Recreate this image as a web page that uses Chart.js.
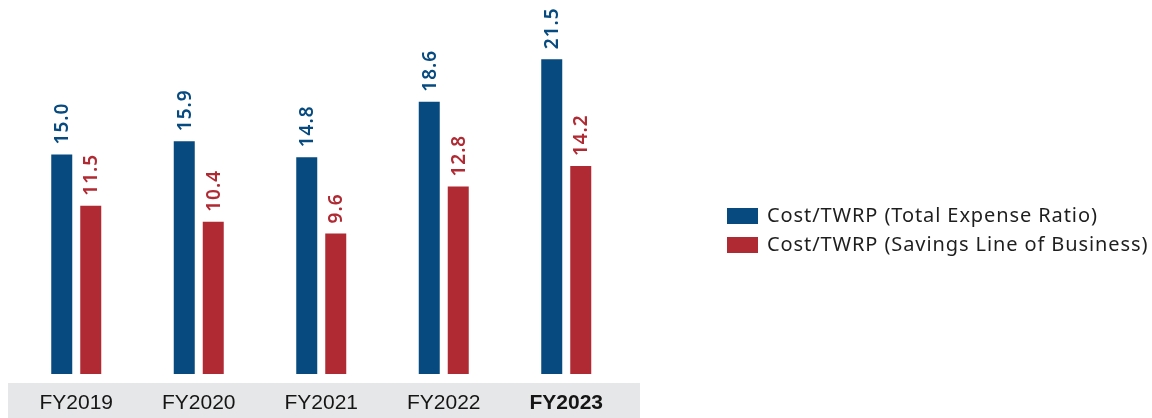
<!DOCTYPE html>
<html>
<head>
<meta charset="utf-8">
<script src="https://cdn.jsdelivr.net/npm/chart.js@4/dist/chart.umd.min.js"></script>
<style>
  html, body { margin: 0; padding: 0; background: #fff; }
  #wrap { width: 1152px; height: 418px; position: relative; }
</style>
</head>
<body>
<div id="wrap"><canvas id="chart"></canvas></div>
<script>
// values
const years = ["FY2019", "FY2020", "FY2021", "FY2022", "FY2023"];
const totalExpenseRatio = [15.0, 15.9, 14.8, 18.6, 21.5];
const savingsLineOfBusiness = [11.5, 10.4, 9.6, 12.8, 14.2];
const seriesNames = ["Cost/TWRP (Total Expense Ratio)", "Cost/TWRP (Savings Line of Business)"];

const BLUE = "#064a7f";
const RED = "#b02a33";

// grey band behind the year labels
const bandPlugin = {
  id: "band",
  beforeDraw(chart) {
    const { ctx } = chart;
    ctx.save();
    ctx.fillStyle = "#e6e7e8";
    ctx.fillRect(8, 383, 632, 35);
    ctx.restore();
  }
};

// rotated value labels above each bar
const valueLabels = {
  id: "valueLabels",
  afterDatasetsDraw(chart) {
    const { ctx } = chart;
    chart.data.datasets.forEach((ds, di) => {
      const meta = chart.getDatasetMeta(di);
      meta.data.forEach((bar, i) => {
        ctx.save();
        ctx.translate(bar.x, bar.y - 10);
        ctx.rotate(-Math.PI / 2);
        ctx.font = "600 19px 'Noto Sans', Lato, sans-serif";
        ctx.letterSpacing = "1px";
        ctx.fillStyle = ds.backgroundColor;
        ctx.textAlign = "left";
        ctx.textBaseline = "middle";
        ctx.fillText(ds.data[i].toFixed(1), 0, 1);
        ctx.restore();
      });
    });
  }
};

// legend on the right side
const sideLegend = {
  id: "sideLegend",
  afterDraw(chart) {
    const { ctx } = chart;
    chart.data.datasets.forEach((ds, di) => {
      const y = 208 + di * 29;
      ctx.save();
      ctx.fillStyle = ds.backgroundColor;
      ctx.fillRect(727, y, 31, 16);
      ctx.fillStyle = "#1e1e1e";
      ctx.font = "20px 'Noto Sans', Lato, sans-serif";
      ctx.letterSpacing = "0.9px";
      ctx.textAlign = "left";
      ctx.textBaseline = "middle";
      ctx.fillText(ds.label, 767, y + 8);
      ctx.restore();
    });
  }
};

new Chart(document.getElementById("chart"), {
  type: "bar",
  data: {
    labels: years,
    datasets: [
      { label: seriesNames[0], data: totalExpenseRatio, backgroundColor: BLUE },
      { label: seriesNames[1], data: savingsLineOfBusiness, backgroundColor: RED }
    ]
  },
  options: {
    responsive: true,
    maintainAspectRatio: false,
    animation: false,
    categoryPercentage: 0.4735,
    barPercentage: 0.724,
    layout: { padding: { left: 15, right: 524.5, top: 8, bottom: 0 } },
    plugins: {
      legend: { display: false },
      tooltip: { enabled: false }
    },
    scales: {
      x: {
        grid: { display: false, drawTicks: false },
        border: { display: false },
        ticks: {
          padding: 17,
          color: "#151515",
          font: (c) => ({
            family: "'Liberation Sans Narrow', 'Liberation Sans', sans-serif",
            size: 21,
            weight: c.index === 4 ? "bold" : "normal"
          })
        },
        afterFit(scale) { scale.height = 44; }
      },
      y: {
        display: false,
        min: 0,
        max: 25
      }
    }
  },
  plugins: [bandPlugin, valueLabels, sideLegend]
});
</script>
</body>
</html>
